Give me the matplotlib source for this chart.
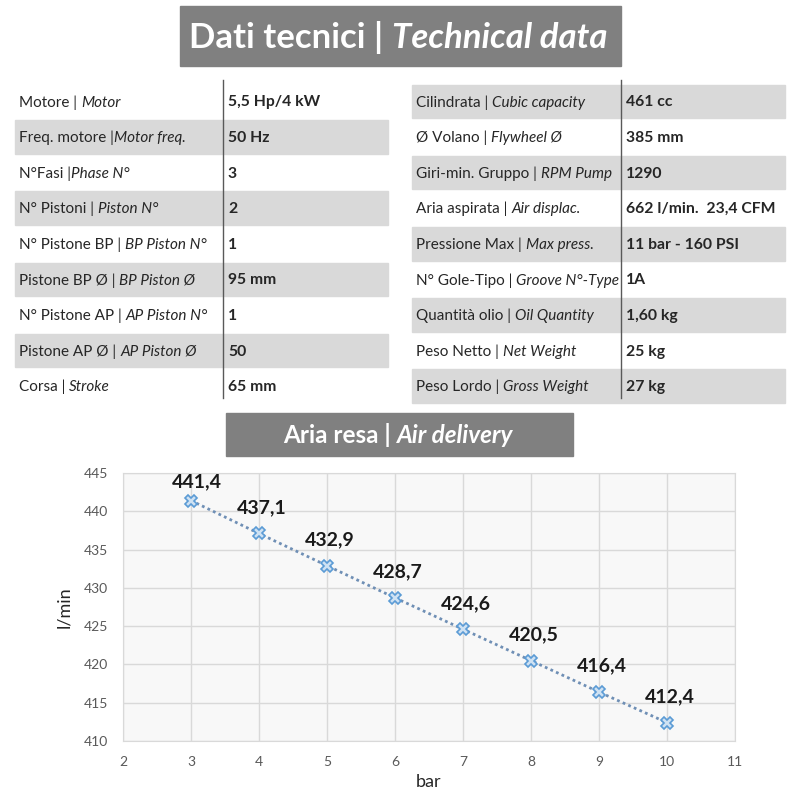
import matplotlib
matplotlib.use("Agg")
import matplotlib.pyplot as plt
from matplotlib.patches import Rectangle

FONT = ["Lato", "DejaVu Sans"]
plt.rcParams['font.family'] = FONT

# ---- data ----
left_labels = [("Motore | ", "Motor"), ("Freq. motore |", "Motor freq."), ("N°Fasi |", "Phase N°"),
               ("N° Pistoni | ", "Piston N°"), ("N° Pistone BP | ", "BP Piston N°"),
               ("Pistone BP Ø | ", "BP Piston Ø"), ("N° Pistone AP | ", "AP Piston N°"),
               ("Pistone AP Ø | ", "AP Piston Ø"), ("Corsa | ", "Stroke")]
left_values = ["5,5 Hp/4 kW", "50 Hz", "3", "2", "1", "95 mm", "1", "50", "65 mm"]
right_labels = [("Cilindrata | ", "Cubic capacity"), ("Ø Volano | ", "Flywheel Ø"),
                ("Giri-min. Gruppo | ", "RPM Pump"), ("Aria aspirata | ", "Air displac."),
                ("Pressione Max | ", "Max press."), ("N° Gole-Tipo | ", "Groove N°-Type"),
                ("Quantità olio | ", "Oil Quantity"), ("Peso Netto | ", "Net Weight"),
                ("Peso Lordo | ", "Gross Weight")]
right_values = ["461 cc", "385 mm", "1290", "662 l/min.  23,4 CFM", "11 bar - 160 PSI",
                "1A", "1,60 kg", "25 kg", "27 kg"]
pressure_bar = [3, 4, 5, 6, 7, 8, 9, 10]
air_delivery = [441.4, 437.1, 432.9, 428.7, 424.6, 420.5, 416.4, 412.4]
x_ticks = [2, 3, 4, 5, 6, 7, 8, 9, 10, 11]
y_ticks = [410, 415, 420, 425, 430, 435, 440, 445]

fig = plt.figure(figsize=(8, 8), dpi=100)
fig.patch.set_facecolor("white")

# overlay axes in pixel coordinates
ov = fig.add_axes([0, 0, 1, 1])
ov.set_xlim(0, 800)
ov.set_ylim(800, 0)
ov.axis("off")

BANNER = "#808080"
SHADE = "#d9d9d9"
TXT = "#262626"

# top banner
ov.add_patch(Rectangle((180, 6), 441, 60, color=BANNER, zorder=1))
t1 = ov.text(189, 37, "Dati tecnici | ", fontsize=25, fontweight="bold", color="white",
             ha="left", va="center", zorder=2)
ov.annotate("Technical data", xy=(1, 0), xycoords=t1, fontsize=25, fontweight="bold",
            fontstyle="italic", color="white", ha="left", va="bottom", zorder=2)

row_h = 35.6
row0 = 83.5
TFS = 11

def draw_table(x0, x1, xdiv, labels, values, shaded_parity):
    for i, ((reg, ital), val) in enumerate(zip(labels, values)):
        y = row0 + i * row_h
        if i % 2 == shaded_parity:
            ov.add_patch(Rectangle((x0, y + 1), x1 - x0, row_h - 2, color=SHADE, zorder=1))
        yc = y + row_h / 2 + 1
        t = ov.text(x0 + 4, yc, reg, fontsize=TFS, color=TXT, ha="left", va="center", zorder=3)
        ov.annotate(ital, xy=(1, 0), xycoords=t, fontsize=TFS, fontstyle="italic",
                    color=TXT, ha="left", va="bottom", zorder=3)
        ov.text(xdiv + 5, yc, val, fontsize=TFS + 0.3, fontweight="bold", color=TXT,
                ha="left", va="center", zorder=3)
    ov.plot([xdiv, xdiv], [row0 - 4, row0 + 9 * row_h - 6], color="#595959", lw=1, zorder=4)

draw_table(15, 388, 223, left_labels, left_values, 1)
draw_table(412, 785, 621, right_labels, right_values, 0)

# second banner
ov.add_patch(Rectangle((226, 413), 347, 43, color=BANNER, zorder=1))
t2 = ov.text(283, 435, "Aria resa | ", fontsize=17.5, fontweight="bold", color="white",
             ha="left", va="center", zorder=2)
ov.annotate("Air delivery", xy=(1, 0), xycoords=t2, fontsize=17.5, fontweight="bold",
            fontstyle="italic", color="white", ha="left", va="bottom", zorder=2)

# chart
ax = fig.add_axes([123 / 800, (800 - 741) / 800, 612 / 800, (741 - 473) / 800])
ax.set_facecolor("#f8f8f8")
ax.plot(pressure_bar, air_delivery, linestyle=(0, (1, 1.2)), color="#6f8fb5", lw=2,
        marker="X", markersize=8, markerfacecolor="#cfe2f3", markeredgecolor="#5b9bd5",
        markeredgewidth=1.2, zorder=3)
for i, (xv, yv) in enumerate(zip(pressure_bar, air_delivery)):
    dy = 7.5 if i == 0 else 12.5  # first label squeezed by the plot top
    dx = 4.5 if i == 0 else 2
    ax.annotate(f"{yv:.1f}".replace(".", ","), (xv, yv), xytext=(dx, dy),
                textcoords="offset points", ha="center", va="bottom",
                fontsize=14, fontweight="bold", color="#1a1a1a")
ax.set_xlim(2, 11)
ax.set_ylim(410, 445)
ax.set_xticks(x_ticks)
ax.set_yticks(y_ticks)
ax.grid(True, color="#d9d9d9", lw=1)
ax.set_axisbelow(True)
for s in ax.spines.values():
    s.set_color("#d9d9d9")
ax.tick_params(length=0, labelsize=10, colors="#595959", pad=11)
ax.set_xlabel("bar", fontsize=13, color="#262626", labelpad=4)
ax.set_ylabel("l/min", fontsize=13, color="#262626", labelpad=8)

fig.savefig("out.png", dpi=100, facecolor="white")
